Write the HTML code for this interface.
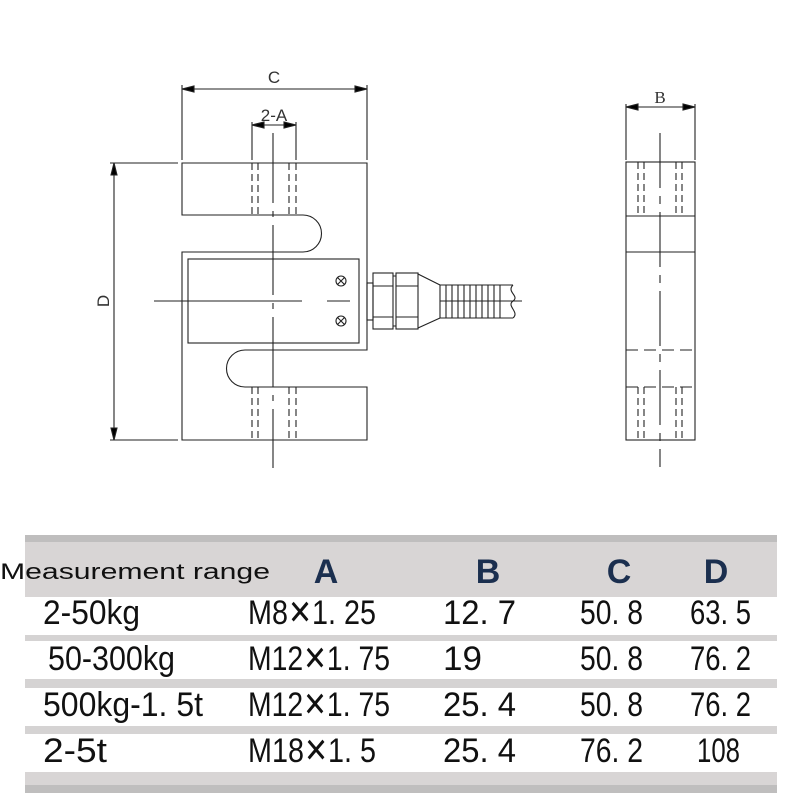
<!DOCTYPE html>
<html><head><meta charset="utf-8"><style>
html,body{margin:0;padding:0;background:#fff;}
svg{display:block;}
</style></head><body>
<svg width="800" height="800" viewBox="0 0 800 800" xmlns="http://www.w3.org/2000/svg">
<g fill="none" stroke="#222" stroke-width="1.1">
<path d="M182,163 H367 V350 H245 A18.5,18.5 0 0 0 245,387 H367 V440 H182 V252 H303 A18.5,18.5 0 0 0 303,215 H182 Z"/>
<rect x="188" y="259" width="171" height="84"/>
<line x1="273" y1="133" x2="273" y2="468" stroke-dasharray="70,8,6,8"/>
<line x1="154" y1="301" x2="302" y2="301"/>
<line x1="327" y1="301" x2="350" y2="301"/>
<circle cx="341" cy="281" r="5"/><path d="M337.5,277.5 L344.5,284.5 M344.5,277.5 L337.5,284.5"/>
<circle cx="341" cy="321" r="5"/><path d="M337.5,317.5 L344.5,324.5 M344.5,317.5 L337.5,324.5"/>
<g stroke-dasharray="7,4">
<path d="M252,163 V215 M258,163 V215 M289,163 V215 M296,163 V215"/>
<path d="M252,387 V440 M258,387 V440 M289,387 V440 M296,387 V440"/>
</g>
<path d="M182,85 V160 M367,85 V160"/>
<line x1="182" y1="89" x2="367" y2="89"/>
<path d="M182,89 l12,-3 v6 Z M367,89 l-12,-3 v6 Z" fill="#000"/>
<path d="M252,122 V160 M296,122 V160"/>
<line x1="252" y1="125" x2="296" y2="125"/>
<path d="M252,125 l12,-3 v6 Z M296,125 l-12,-3 v6 Z" fill="#000"/>
<path d="M110,163 H178 M110,440 H178"/>
<line x1="114" y1="163" x2="114" y2="440"/>
<path d="M114,163 l-3,12 h6 Z M114,440 l-3,-12 h6 Z" fill="#000"/>
<rect x="367" y="283" width="6" height="37"/>
<rect x="373" y="273" width="20" height="56"/>
<path d="M373,286 H393 M373,317 H393"/>
<rect x="396" y="273" width="22" height="56"/>
<path d="M396,286 H418 M396,317 H418"/>
<path d="M393,276 H396 M393,326 H396"/>
<path d="M418,274 L440,285 V318 L418,328"/>
<path d="M440,285 H513 M440,318 H513"/>
<path d="M446,285V318M452,285V318M458,285V318M464,285V318M470,285V318M476,285V318M482,285V318M488,285V318M494,285V318M500,285V318"/>
<path d="M513,285 C506,292 520,296 513,301 C506,306 520,312 513,318"/>
<line x1="440" y1="301" x2="522" y2="301"/>
<rect x="626" y="162" width="69" height="278"/>
<path d="M626,216 H695 M626,252 H695"/>
<path d="M626,350 H695 M626,387 H695" stroke-dasharray="12,6"/>
<line x1="660" y1="133" x2="660" y2="467" stroke-dasharray="55,8,8,8"/>
<g stroke-dasharray="7,4">
<path d="M638,162 V216 M644,162 V216 M676,162 V216 M682,162 V216"/>
<path d="M638,387 V440 M644,387 V440 M676,387 V440 M682,387 V440"/>
</g>
<path d="M626,104 V160 M695,104 V160"/>
<line x1="626" y1="107" x2="695" y2="107"/>
<path d="M626,107 l12,-3 v6 Z M695,107 l-12,-3 v6 Z" fill="#000"/>
</g>
<g font-family="Liberation Sans, sans-serif" fill="#333" font-size="17">
<text x="274" y="83" text-anchor="middle">C</text>
<text x="274" y="121" text-anchor="middle">2-A</text>
<text x="660" y="103" text-anchor="middle" font-family="Liberation Serif, serif">B</text>
<text x="0" y="0" transform="translate(109,301) rotate(-90)" text-anchor="middle">D</text>
</g>
<rect x="25" y="535" width="752" height="7" fill="#bfbebe"/>
<rect x="25" y="542" width="752" height="55" fill="#d8d5d5"/>
<rect x="25" y="635" width="752" height="6" fill="#d5d3d3"/>
<rect x="25" y="679" width="752" height="9" fill="#d5d3d3"/>
<rect x="25" y="726" width="752" height="8" fill="#d5d3d3"/>
<rect x="25" y="772" width="752" height="13" fill="#d8d5d5"/>
<rect x="25" y="785" width="752" height="8" fill="#bfbebe"/>
<g font-family="Liberation Sans, sans-serif">
<text x="0" y="579" font-size="22" fill="#111" textLength="270" lengthAdjust="spacingAndGlyphs">Measurement range</text>
<g font-size="34" font-weight="bold" fill="#1b2f4f" text-anchor="middle">
<text x="326" y="583">A</text><text x="488" y="583">B</text><text x="619" y="583">C</text><text x="716" y="583">D</text>
</g>
<g font-size="34" fill="#111">
<text x="43" y="624" textLength="97" lengthAdjust="spacingAndGlyphs">2-50kg</text>
<text x="248" y="624" textLength="128" lengthAdjust="spacingAndGlyphs">M8✕1. 25</text>
<text x="443" y="624" textLength="73" lengthAdjust="spacingAndGlyphs">12. 7</text>
<text x="580" y="624" textLength="63" lengthAdjust="spacingAndGlyphs">50. 8</text>
<text x="690" y="624" textLength="61" lengthAdjust="spacingAndGlyphs">63. 5</text>

<text x="48" y="670" textLength="127" lengthAdjust="spacingAndGlyphs">50-300kg</text>
<text x="248" y="670" textLength="142" lengthAdjust="spacingAndGlyphs">M12✕1. 75</text>
<text x="443" y="670" textLength="39" lengthAdjust="spacingAndGlyphs">19</text>
<text x="580" y="670" textLength="63" lengthAdjust="spacingAndGlyphs">50. 8</text>
<text x="690" y="670" textLength="61" lengthAdjust="spacingAndGlyphs">76. 2</text>

<text x="43" y="716" textLength="160" lengthAdjust="spacingAndGlyphs">500kg-1. 5t</text>
<text x="248" y="716" textLength="142" lengthAdjust="spacingAndGlyphs">M12✕1. 75</text>
<text x="443" y="716" textLength="73" lengthAdjust="spacingAndGlyphs">25. 4</text>
<text x="580" y="716" textLength="63" lengthAdjust="spacingAndGlyphs">50. 8</text>
<text x="690" y="716" textLength="61" lengthAdjust="spacingAndGlyphs">76. 2</text>

<text x="43" y="762" textLength="64" lengthAdjust="spacingAndGlyphs">2-5t</text>
<text x="248" y="762" textLength="128" lengthAdjust="spacingAndGlyphs">M18✕1. 5</text>
<text x="443" y="762" textLength="73" lengthAdjust="spacingAndGlyphs">25. 4</text>
<text x="580" y="762" textLength="63" lengthAdjust="spacingAndGlyphs">76. 2</text>
<text x="697" y="762" textLength="43" lengthAdjust="spacingAndGlyphs">108</text>
</g>
</g>
</svg>
</body></html>
